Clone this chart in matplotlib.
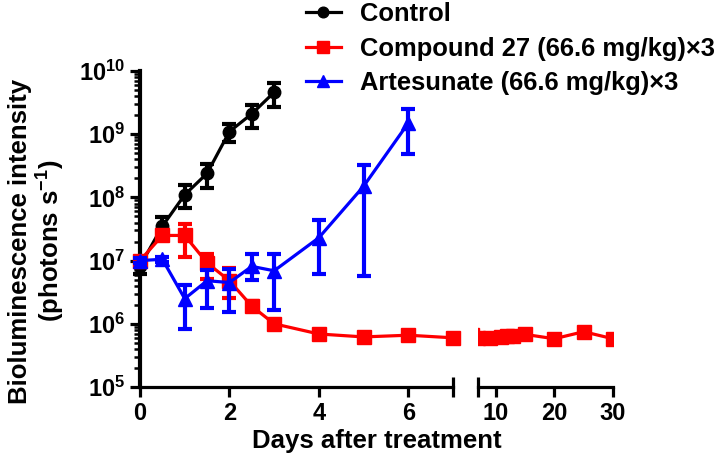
import numpy as np
import matplotlib
matplotlib.use("Agg")
import matplotlib.pyplot as plt
from matplotlib.ticker import LogLocator, NullFormatter, FuncFormatter

plt.rcParams['font.family'] = ['Liberation Sans', 'DejaVu Sans']
plt.rcParams['font.weight'] = 'bold'
plt.rcParams['mathtext.fontset'] = 'custom'
plt.rcParams['mathtext.rm'] = 'Liberation Sans:bold'
plt.rcParams['mathtext.bf'] = 'Liberation Sans:bold'

# Control
ctrl_days = [0, 0.5, 1, 1.5, 2, 2.5, 3]
ctrl_val = [8.2e6, 3.5e7, 1.1e8, 2.4e8, 1.1e9, 2.1e9, 4.6e9]
ctrl_lo = [6.2e6, 2.6e7, 6.8e7, 1.4e8, 7.6e8, 1.25e9, 2.7e9]
ctrl_hi = [1.1e7, 4.9e7, 1.55e8, 3.4e8, 1.45e9, 2.9e9, 6.5e9]

# Compound 27
cpd_days = [0, 0.5, 1, 1.5, 2, 2.5, 3, 4, 5, 6, 7, 9, 11, 12, 13, 15, 20, 25, 30]
cpd_val = [1.0e7, 2.5e7, 2.5e7, 9.2e6, 4.8e6, 1.9e6, 1.0e6, 6.9e5, 6.2e5, 6.6e5,
           6.0e5, 6.0e5, 6.2e5, 6.3e5, 6.5e5, 6.8e5, 5.8e5, 7.5e5, 5.8e5]
cpd_lo = [9.0e6, 2.2e7, 1.15e7, 5.2e6, 2.6e6, 1.6e6, 9.0e5, 6.5e5, 5.9e5, 6.2e5,
          5.7e5, 5.7e5, 5.9e5, 6.0e5, 6.2e5, 6.5e5, 5.5e5, 7.1e5, 5.5e5]
cpd_hi = [1.1e7, 2.8e7, 3.8e7, 1.26e7, 7.6e6, 2.3e6, 1.1e6, 7.3e5, 6.5e5, 7.0e5,
          6.3e5, 6.3e5, 6.5e5, 6.6e5, 6.8e5, 7.1e5, 6.1e5, 7.9e5, 6.1e5]

# Artesunate
art_days = [0, 0.5, 1, 1.5, 2, 2.5, 3, 4, 5, 6]
art_val = [1.0e7, 1.05e7, 2.5e6, 4.8e6, 4.5e6, 8.1e6, 6.9e6, 2.3e7, 1.5e8, 1.5e9]
art_lo = [9.0e6, 9.5e6, 8.3e5, 1.8e6, 1.55e6, 4.9e6, 1.66e6, 6.2e6, 5.8e6, 4.9e8]
art_hi = [1.1e7, 1.15e7, 4.1e6, 7.1e6, 7.4e6, 1.26e7, 1.26e7, 4.4e7, 3.3e8, 2.5e9]

labels = ['Control', 'Compound 27 (66.6 mg/kg)×3', 'Artesunate (66.6 mg/kg)×3']
colors = ['#000000', '#FF0000', '#0000FF']
markers = ['o', 's', '^']
marker_sizes = [9, 9.5, 10]

fig = plt.figure(figsize=(7.23, 4.67), dpi=100)
ax1 = fig.add_axes([140 / 723, 80 / 467, 313 / 723, 316 / 467])
ax2 = fig.add_axes([478 / 723, 80 / 467, 135 / 723, 316 / 467], sharey=ax1)

series = [
    (ctrl_days, ctrl_val, ctrl_lo, ctrl_hi),
    (cpd_days, cpd_val, cpd_lo, cpd_hi),
    (art_days, art_val, art_lo, art_hi),
]

handles = []
for (d, v, lo, hi), lab, c, m, ms in zip(series, labels, colors, markers, marker_sizes):
    d = np.array(d); v = np.array(v); lo = np.array(lo); hi = np.array(hi)
    yerr = np.vstack([v - lo, hi - v])
    # first segment (0-7)
    s1 = d <= 7
    h, = ax1.plot(d[s1], v[s1], color=c, marker=m, ms=ms, lw=2.3, clip_on=False,
                  label=lab, zorder=3)
    ax1.errorbar(d[s1], v[s1], yerr=yerr[:, s1], fmt='none', ecolor=c, elinewidth=3,
                 capsize=5, capthick=3, clip_on=False, zorder=3)
    handles.append(h)
    # second segment (beyond break)
    if d.max() > 7:
        ax2.plot(d, v, color=c, marker=m, ms=ms, lw=2.3, clip_on=True, zorder=3)

for ax in (ax1, ax2):
    ax.set_yscale('log')
    ax.set_ylim(1e5, 1e10)
    for s in ('top', 'right'):
        ax.spines[s].set_visible(False)
    ax.spines['bottom'].set_linewidth(2.3)
    ax.spines['left'].set_linewidth(3)
    ax.tick_params(axis='both', which='major', width=2.3, length=7, labelsize=17,
                   direction='out')
    ax.tick_params(axis='y', which='minor', width=1.8, length=4)

ax1.set_xlim(0, 7)
ax1.set_xticks([0, 2, 4, 6])
ax1.set_xticks([7], minor=True)
ax1.tick_params(axis='x', which='minor', direction='inout', length=14, width=2.3)
ax1.yaxis.set_major_locator(LogLocator(base=10, numticks=10))
ax1.yaxis.set_minor_locator(LogLocator(base=10, subs=np.arange(2, 10), numticks=10))
ax1.yaxis.set_minor_formatter(NullFormatter())
ax1.yaxis.set_major_formatter(FuncFormatter(lambda y, _: r'$\mathbf{10^{%d}}$' % round(np.log10(y))))

ax2.set_xlim(7, 30)
ax2.set_xticks([10, 20, 30])
ax2.set_xticks([7], minor=True)
ax2.tick_params(axis='x', which='minor', direction='inout', length=14, width=2.3)
ax2.spines['left'].set_visible(False)
ax2.tick_params(axis='y', which='both', left=False, labelleft=False)

for ax in (ax1, ax2):
    for t in ax.get_xticklabels():
        t.set_fontweight('bold')

fig.text(377 / 723, 14 / 467, 'Days after treatment', ha='center', va='bottom',
         fontsize=18.5, fontweight='bold')
fig.text(20 / 723, 226 / 467, 'Bioluminescence intensity', rotation=90, ha='center',
         va='center', fontsize=18.5, fontweight='bold')
fig.text(50 / 723, 226 / 467, r'(photons s$^{\mathbf{-1}}$)', rotation=90, ha='center',
         va='center', fontsize=18.5, fontweight='bold')

fig.legend(handles=handles, loc='upper left', bbox_to_anchor=(306 / 723, 0.995),
           frameon=False, handlelength=1.35, labelspacing=0.4, markerscale=0.85,
           handletextpad=0.75, borderaxespad=0, borderpad=0,
           prop={'weight': 'bold', 'size': 18.4})

fig.savefig('out.png', dpi=100)
